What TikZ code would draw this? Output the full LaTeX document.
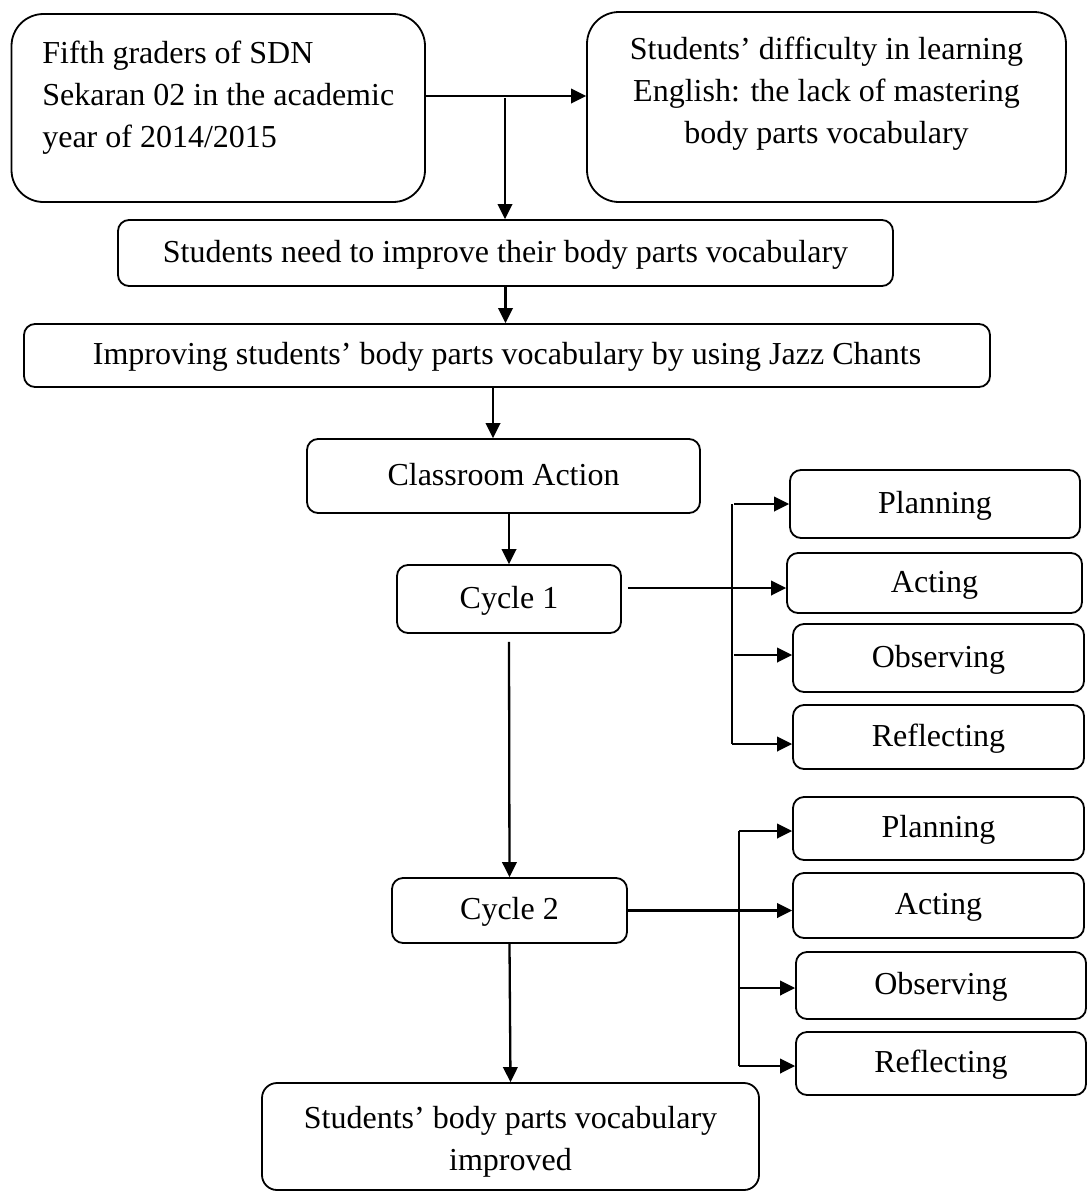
\documentclass[tikz,border=0pt]{standalone}
\usepackage{fontspec}
\setmainfont{Liberation Serif}
\usetikzlibrary{arrows.meta}

\tikzset{
	frame/.style={draw=black, line width=1.8pt, rounded corners=11pt, inner sep=0pt, font=\fontsize{32}{42}\selectfont},
	box/.style={frame, align=center, text height=24pt, text depth=6pt},
	arr/.style={draw=black, line width=2.3pt, -{Triangle[length=15pt,width=14.5pt]}},
	line/.style={draw=black, line width=2.3pt},
}

\begin{document}
\begin{tikzpicture}[x=1pt, y=-1pt]
	\useasboundingbox (0,0) rectangle (1090,1192);
	\node[frame, rounded corners=32pt, align=left, minimum width=413.5pt, minimum height=188pt] (grade) at (218.25,108) {Fifth graders of SDN\\Sekaran 02 in the academic\\year of 2014/2015\\[-14pt]\mbox{}};
	\node[frame, rounded corners=32pt, align=center, minimum width=479pt, minimum height=190pt] (problem) at (826.5,107) {Students’ difficulty in learning\\English: the lack of mastering\\body parts vocabulary\\[-9pt]\mbox{}};
	\node[box, minimum width=775pt, minimum height=66pt] (need) at (505.5,253) {Students need to improve their body parts vocabulary};
	\node[box, minimum width=966pt, minimum height=63pt] (improving) at (507,355.5) {Improving students’ body parts vocabulary by using Jazz Chants};
	\node[box, minimum width=393pt, minimum height=74pt] (classroom) at (503.5,476) {Classroom Action};
	\node[box, minimum width=224pt, minimum height=68pt] (cycleA) at (509,599) {Cycle 1};
	\node[box, minimum width=235pt, minimum height=65pt] (cycleB) at (509.5,910.5) {Cycle 2};
	\node[frame, rounded corners=15pt, align=center, minimum width=497pt, minimum height=107pt] (result) at (510.5,1136.5) {\mbox{}\\[-10pt]Students’ body parts vocabulary\\improved};
	\node[box, minimum width=290pt, minimum height=68pt] (planA) at (935,504) {Planning};
	\node[box, minimum width=295pt, minimum height=60pt] (actA) at (934.5,583) {Acting};
	\node[box, minimum width=291pt, minimum height=68pt] (obsA) at (938.5,658) {Observing};
	\node[box, minimum width=291pt, minimum height=64pt] (refA) at (938.5,737) {Reflecting};
	\node[box, minimum width=291pt, minimum height=63pt] (planB) at (938.5,828.5) {Planning};
	\node[box, minimum width=291pt, minimum height=65pt] (actB) at (938.5,905.5) {Acting};
	\node[box, minimum width=290pt, minimum height=67pt] (obsB) at (941,985.5) {Observing};
	\node[box, minimum width=290pt, minimum height=63pt] (refB) at (941,1063.5) {Reflecting};
	\coordinate (split) at (505,96);
	\draw[arr] (grade.east |- split) -- (problem.west |- split);
	\draw[arr] ([yshift=-2pt]split) -- (split |- need.north);
	\draw[arr] (need.south) -- (need.south |- improving.north);
	\coordinate (down) at ([xshift=-14pt]improving.south);
	\draw[arr] (down) -- (down |- classroom.north);
	\draw[arr] (classroom.south -| cycleA.north) -- (cycleA.north);
	\draw[arr] ([yshift=-8pt]cycleA.south) -- (cycleB.north);
	\draw[arr] (cycleB.south) -- (result.north);
	\coordinate (outA) at ([yshift=11pt]cycleA.east);
	\draw[arr] ([xshift=6pt]outA) -- (outA -| actA.west);
	\coordinate (topA) at (732,504);
	\coordinate (midA) at (732,655);
	\coordinate (botA) at (732,744);
	\draw[line] (topA) -- (botA);
	\draw[arr] ([xshift=2pt]topA) -- (topA -| planA.west);
	\draw[arr] ([xshift=2pt]midA) -- (midA -| obsA.west);
	\draw[arr] (botA) -- (botA -| refA.west);
	\coordinate (topB) at (739,831);
	\coordinate (midB) at (739,988);
	\coordinate (botB) at (739,1066);
	\draw[line] (topB) -- (botB);
	\draw[arr] (topB) -- (topB -| planB.west);
	\draw[arr] (cycleB.east) -- (cycleB.east -| actB.west);
	\draw[arr] (midB) -- (midB -| obsB.west);
	\draw[arr] (botB) -- (botB -| refB.west);
\end{tikzpicture}
\end{document}
